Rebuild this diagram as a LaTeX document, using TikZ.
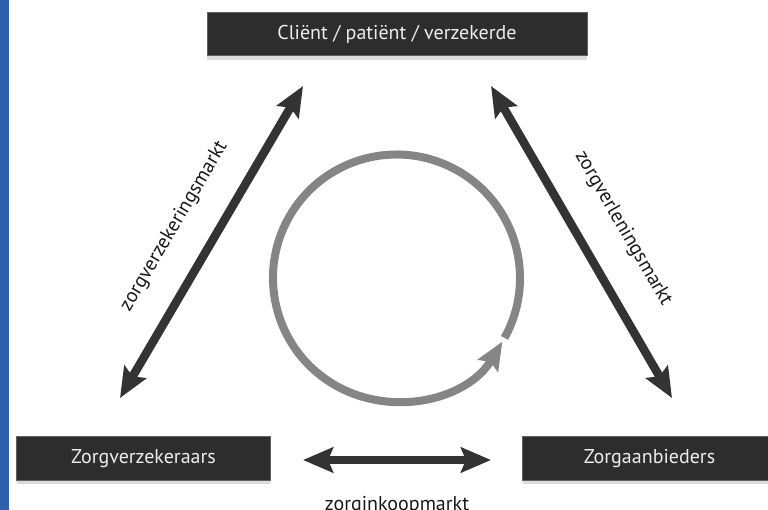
\documentclass[tikz,border=0pt]{standalone}
\usepackage{fontspec}
\setmainfont{PT Sans}
\usepackage{tikz}
\usetikzlibrary{arrows.meta,shadows}
\definecolor{sidebar}{HTML}{2F5FA8}
\definecolor{boxfill}{HTML}{2D2D2D}
\definecolor{marketgrey}{HTML}{333333}
\definecolor{cyclegrey}{HTML}{858585}

\begin{document}
\begin{tikzpicture}[x=0.75pt,y=-0.75pt,
party/.style={draw=black!62,fill=boxfill,text=white!93!black,line width=0.6pt,
  minimum height=32.5pt,inner sep=0pt,font=\fontsize{15}{18}\selectfont,
  drop shadow={shadow xshift=0pt,shadow yshift=-3pt,opacity=.28}},
marketarrow/.style={{Stealth[length=22.5pt,width=18.75pt,inset=3.75pt]}-{Stealth[length=22.5pt,width=18.75pt,inset=3.75pt]},
  line width=6.4pt,draw=marketgrey},
cyclearrow/.style={-{Stealth[length=21pt,width=17.5pt,inset=3.5pt]},line width=6pt,draw=cyclegrey},
mlabel/.style={font=\fontsize{15}{18}\selectfont,inner sep=0pt,text=black!90}]
\useasboundingbox (0,0) rectangle (768,510);
\clip (0,0) rectangle (768,510);
\fill[sidebar] (0,0) rectangle (9,510);
\node[party,minimum width=285pt] (client) at (397,34) {Cliënt / patiënt / verzekerde};
\node[party,minimum width=190pt] (insurers) at (143.5,458.5) {Zorgverzekeraars};
\node[party,minimum width=190pt] (providers) at (649.5,458.5) {Zorgaanbieders};
\coordinate (zvm-low) at (120,398);
\coordinate (zvm-high) at (303,86);
\coordinate (zlm-high) at (491,86);
\coordinate (zlm-low) at (672,398);
\coordinate (zim-left) at (303,460);
\coordinate (zim-right) at (491,460);
\coordinate (hub) at (396.5,278);
\draw[marketarrow] (zvm-low) -- node[mlabel,sloped,pos=.485,above=20pt]{zorgverzekeringsmarkt} (zvm-high);
\draw[marketarrow] (zlm-high) -- node[mlabel,sloped,pos=.526,above=22pt]{zorgverleningsmarkt} (zlm-low);
\draw[marketarrow] (zim-left) -- node[mlabel,below=24pt]{zorginkoopmarkt} (zim-right);
\draw[cyclearrow] (hub) ++(29:123.5) arc[start angle=29,end angle=-329,radius=123.5];
\end{tikzpicture}
\end{document}
